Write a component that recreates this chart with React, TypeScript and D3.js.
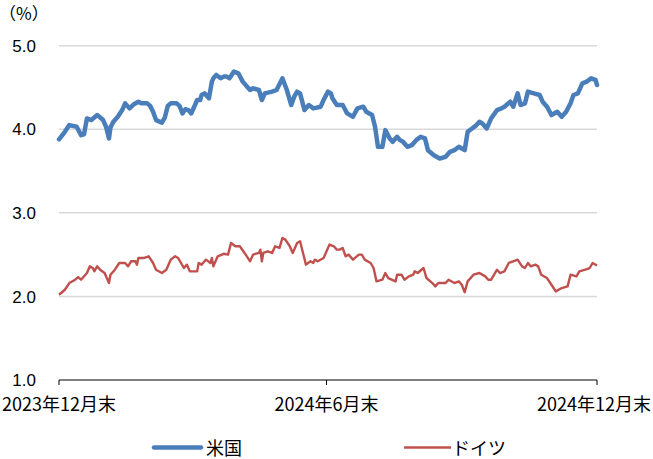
import React from "react";
import * as d3 from "d3";

const startDate = new Date(2023, 11, 31);
const endDate = new Date(2024, 11, 31);

const xTickDates = [new Date(2023, 11, 31), new Date(2024, 5, 30), new Date(2024, 11, 31)];
const xTickLabels = ["2023年12月末", "2024年6月末", "2024年12月末"];
const yTicks = [1.0, 2.0, 3.0, 4.0, 5.0];
const seriesNames = ["米国", "ドイツ"];

// day offsets from 2023-12-31 and 10Y yields (%)
const usDay = [0, 4, 7, 12, 15, 17, 19, 22, 26, 28, 30, 32, 34, 35, 37, 40, 43, 45, 48, 51, 54, 56, 60, 62, 64, 66, 70, 72, 74, 76, 80, 82, 84, 86, 88, 90, 94, 96, 97, 99, 102, 104, 105, 107, 110, 112, 114, 116, 119, 122, 125, 128, 130, 132, 136, 138, 140, 145, 148, 152, 155, 158, 160, 162, 164, 167, 170, 173, 178, 180, 183, 185, 186, 189, 193, 196, 200, 203, 207, 209, 213, 215, 217, 220, 222, 225, 227, 230, 232, 234, 237, 240, 243, 246, 249, 251, 255, 259, 263, 266, 269, 272, 274, 276, 278, 281, 284, 286, 288, 291, 294, 298, 301, 303, 307, 309, 312, 314, 317, 319, 323, 327, 329, 332, 335, 339, 342, 345, 348, 350, 353, 356, 359, 362, 365, 366];
const usYield = [3.88, 3.97, 4.05, 4.03, 3.93, 3.94, 4.13, 4.11, 4.17, 4.14, 4.11, 4.03, 3.89, 4.02, 4.09, 4.15, 4.23, 4.31, 4.25, 4.30, 4.33, 4.31, 4.31, 4.28, 4.21, 4.11, 4.08, 4.14, 4.28, 4.31, 4.31, 4.28, 4.19, 4.24, 4.23, 4.19, 4.35, 4.35, 4.41, 4.43, 4.37, 4.57, 4.61, 4.65, 4.61, 4.63, 4.63, 4.61, 4.69, 4.67, 4.57, 4.51, 4.47, 4.49, 4.47, 4.35, 4.43, 4.45, 4.47, 4.61, 4.47, 4.29, 4.39, 4.45, 4.43, 4.23, 4.29, 4.25, 4.27, 4.35, 4.45, 4.43, 4.37, 4.29, 4.29, 4.19, 4.15, 4.25, 4.27, 4.21, 4.17, 4.03, 3.79, 3.79, 3.99, 3.89, 3.85, 3.91, 3.87, 3.85, 3.79, 3.81, 3.87, 3.91, 3.89, 3.75, 3.69, 3.65, 3.67, 3.73, 3.75, 3.79, 3.77, 3.75, 3.97, 4.01, 4.05, 4.09, 4.07, 4.01, 4.13, 4.23, 4.25, 4.27, 4.33, 4.27, 4.43, 4.29, 4.31, 4.45, 4.43, 4.41, 4.33, 4.27, 4.17, 4.21, 4.15, 4.21, 4.31, 4.41, 4.43, 4.55, 4.57, 4.61, 4.59, 4.53];

const deDay = [0, 4, 7, 11, 13, 15, 19, 21, 23, 24, 26, 28, 31, 34, 35, 38, 41, 45, 47, 49, 52, 53, 54, 58, 61, 64, 66, 70, 73, 76, 79, 81, 85, 87, 89, 94, 95, 97, 99, 100, 103, 104, 105, 108, 112, 115, 117, 120, 123, 127, 130, 132, 136, 137, 138, 139, 142, 145, 147, 150, 152, 154, 157, 159, 162, 164, 166, 168, 171, 173, 174, 176, 180, 182, 184, 187, 189, 191, 193, 195, 197, 200, 204, 206, 208, 212, 214, 216, 220, 222, 224, 229, 230, 233, 235, 238, 241, 242, 244, 248, 250, 254, 256, 258, 263, 265, 269, 272, 274, 276, 278, 282, 286, 290, 292, 294, 298, 300, 303, 306, 309, 312, 315, 317, 319, 321, 324, 326, 328, 332, 335, 338, 342, 346, 348, 352, 354, 358, 361, 363, 366];
const deYield = [2.02, 2.08, 2.16, 2.20, 2.23, 2.20, 2.28, 2.36, 2.34, 2.30, 2.36, 2.32, 2.28, 2.16, 2.26, 2.32, 2.40, 2.40, 2.36, 2.42, 2.42, 2.38, 2.46, 2.46, 2.48, 2.40, 2.32, 2.28, 2.32, 2.44, 2.48, 2.46, 2.34, 2.38, 2.30, 2.30, 2.40, 2.38, 2.42, 2.44, 2.40, 2.46, 2.36, 2.48, 2.51, 2.50, 2.64, 2.60, 2.60, 2.50, 2.42, 2.50, 2.52, 2.56, 2.42, 2.52, 2.54, 2.52, 2.60, 2.58, 2.70, 2.68, 2.60, 2.52, 2.64, 2.66, 2.52, 2.38, 2.42, 2.40, 2.44, 2.42, 2.46, 2.54, 2.62, 2.60, 2.56, 2.56, 2.58, 2.48, 2.50, 2.44, 2.50, 2.50, 2.44, 2.40, 2.34, 2.18, 2.20, 2.28, 2.22, 2.18, 2.26, 2.26, 2.20, 2.24, 2.26, 2.30, 2.28, 2.34, 2.22, 2.16, 2.12, 2.16, 2.16, 2.20, 2.16, 2.18, 2.14, 2.05, 2.18, 2.26, 2.28, 2.24, 2.20, 2.20, 2.32, 2.28, 2.30, 2.40, 2.42, 2.44, 2.36, 2.34, 2.40, 2.36, 2.38, 2.36, 2.26, 2.22, 2.14, 2.06, 2.10, 2.12, 2.26, 2.24, 2.30, 2.32, 2.34, 2.40, 2.37];

type Pt = { d: Date; v: number };
const toPts = (days: number[], vals: number[]): Pt[] =>
  days.map((n, i) => ({ d: d3.timeDay.offset(startDate, n), v: vals[i] }));

const W = 653;
const H = 459;
const left = 59;
const right = 597;
const top = 45.7;
const bottom = 380;

const jpFont = "'Noto Sans CJK JP', 'Liberation Sans', sans-serif";
const numFont = "'Liberation Sans', Arial, sans-serif";

export default function App() {
  const x = d3.scaleTime().domain([startDate, endDate]).range([left, right]);
  const y = d3.scaleLinear().domain([1, 5]).range([bottom, top]);
  const line = d3
    .line<Pt>()
    .x((p) => x(p.d))
    .y((p) => y(p.v))
    .curve(d3.curveLinear);

  const us = toPts(usDay, usYield);
  const de = toPts(deDay, deYield);

  return (
    <svg
      width={W}
      height={H}
      style={{ position: "absolute", left: 0, top: 0, background: "#fff" }}
    >
      <rect x={0} y={0} width={W} height={H} fill="#fff" />
      {yTicks
        .filter((t) => t > 1)
        .map((t) => (
          <line
            key={t}
            x1={left}
            x2={right}
            y1={y(t)}
            y2={y(t)}
            stroke="#d9d9d9"
            strokeWidth={1.5}
          />
        ))}
      {yTicks.map((t) => (
        <text
          key={"yl" + t}
          x={36}
          y={y(t)}
          dy="0.36em"
          textAnchor="end"
          fontFamily={numFont}
          fontSize={17}
          fill="#000"
        >
          {t.toFixed(1)}
        </text>
      ))}
      <text x={-1} y={20} fontFamily={jpFont} fontSize={17} fill="#000">
        （%）
      </text>
      <line x1={left} x2={right} y1={bottom} y2={bottom} stroke="#000" strokeWidth={1} />
      {xTickDates.map((d, i) => (
        <g key={"xt" + i}>
          <line x1={x(d)} x2={x(d)} y1={bottom} y2={bottom + 5} stroke="#000" strokeWidth={1} />
          <text
            x={Math.min(Math.max(x(d), 59), W - 59)}
            y={411}
            textAnchor="middle"
            fontFamily={jpFont}
            fontSize={18}
            fill="#000"
          >
            {xTickLabels[i]}
          </text>
        </g>
      ))}
      <path d={line(de) || ""} fill="none" stroke="#c0504d" strokeWidth={2.4} strokeLinejoin="round" />
      <path d={line(us) || ""} fill="none" stroke="#4a7ebb" strokeWidth={4.5} strokeLinejoin="round" strokeLinecap="round" />
      <line x1={154} x2={201} y1={447.5} y2={447.5} stroke="#4a7ebb" strokeWidth={4.5} strokeLinecap="round" />
      <text x={206} y={454.5} fontFamily={jpFont} fontSize={18} fill="#000">
        {seriesNames[0]}
      </text>
      <line x1={404} x2={451} y1={447.5} y2={447.5} stroke="#c0504d" strokeWidth={2.4} />
      <text x={452} y={454.5} fontFamily={jpFont} fontSize={18} fill="#000">
        {seriesNames[1]}
      </text>
    </svg>
  );
}
